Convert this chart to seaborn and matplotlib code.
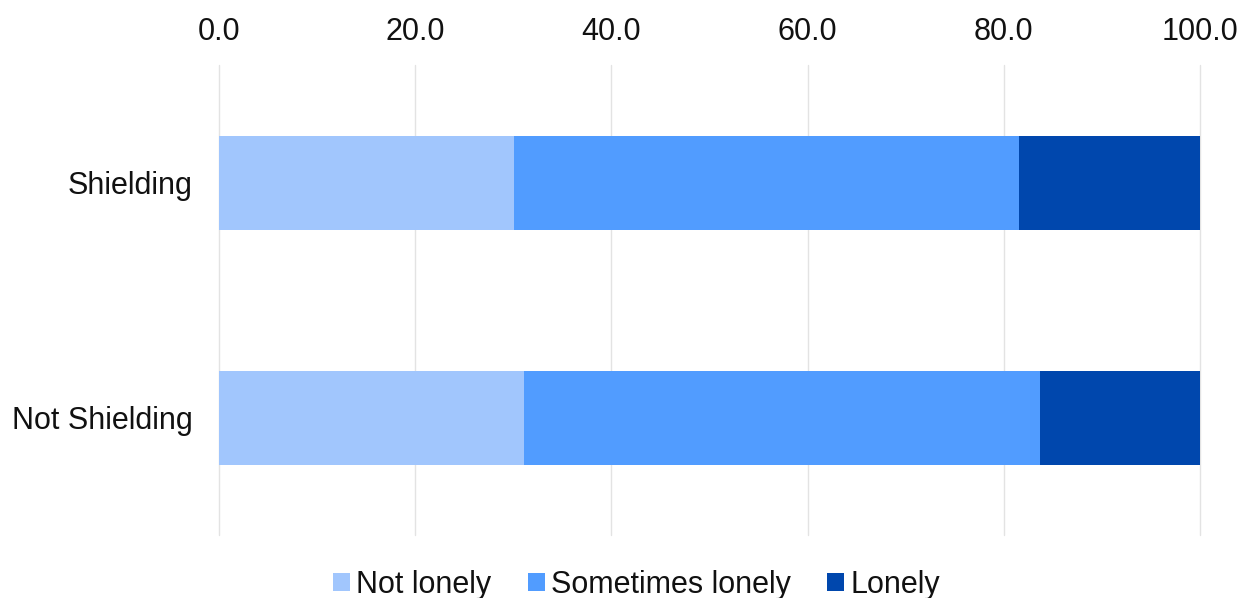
import matplotlib
matplotlib.use("Agg")
import matplotlib.pyplot as plt
import seaborn as sns
import numpy as np
import pandas as pd
from matplotlib.patches import Patch

categories = ["Shielding", "Not Shielding"]
not_lonely = [30.1, 31.1]
sometimes_lonely = [51.5, 52.6]
lonely = [18.4, 16.3]
series_names = ["Not lonely", "Sometimes lonely", "Lonely"]
colors = ["#A1C6FD", "#519CFF", "#0047AD"]
xticks = [0, 20, 40, 60, 80, 100]

sns.set_theme(style="white")
plt.rcParams['font.family'] = ['Liberation Sans', 'DejaVu Sans']

fig = plt.figure(figsize=(12.47, 5.98), dpi=100)
ax = fig.add_axes([0.1756, 0.105, 0.7867, 0.786])

c1 = np.array(not_lonely)
c2 = c1 + np.array(sometimes_lonely)
c3 = c2 + np.array(lonely)
cums = [c3, c2, c1]
for cum, col in zip(cums, colors[::-1]):
    df = pd.DataFrame({"cat": categories, "val": cum})
    sns.barplot(data=df, x="val", y="cat", orient="h", color=col, width=0.4,
                ax=ax, saturation=1, linewidth=0, zorder=3)

ax.set_xlim(0, 100)
ax.set_ylim(1.5, -0.5)
ax.set_xticks(xticks)
ax.set_xticklabels([f"{v:.1f}" for v in xticks])
ax.xaxis.tick_top()
ax.tick_params(axis='x', length=0, labelsize=22, pad=13, colors="#111111")
ax.tick_params(axis='y', length=0, labelsize=22, pad=19, colors="#111111")
ax.set_xlabel("")
ax.set_ylabel("")
ax.grid(axis='x', color="#E3E3E3", linewidth=1, zorder=0)
ax.grid(axis='y', visible=False)
for gl in ax.get_xgridlines():
    gl.set_clip_on(False)
for s in ax.spines.values():
    s.set_visible(False)

handles = [Patch(facecolor=c, edgecolor='none') for c in colors]
leg = fig.legend(handles, series_names, loc="center", bbox_to_anchor=(0.5105, 0.022),
                 ncol=3, frameon=False, fontsize=22, handlelength=0.55, handleheight=0.55,
                 handletextpad=0.2, columnspacing=1.2, borderpad=0)
for t in leg.get_texts():
    t.set_color("#111111")

fig.savefig("out.png", dpi=100)
